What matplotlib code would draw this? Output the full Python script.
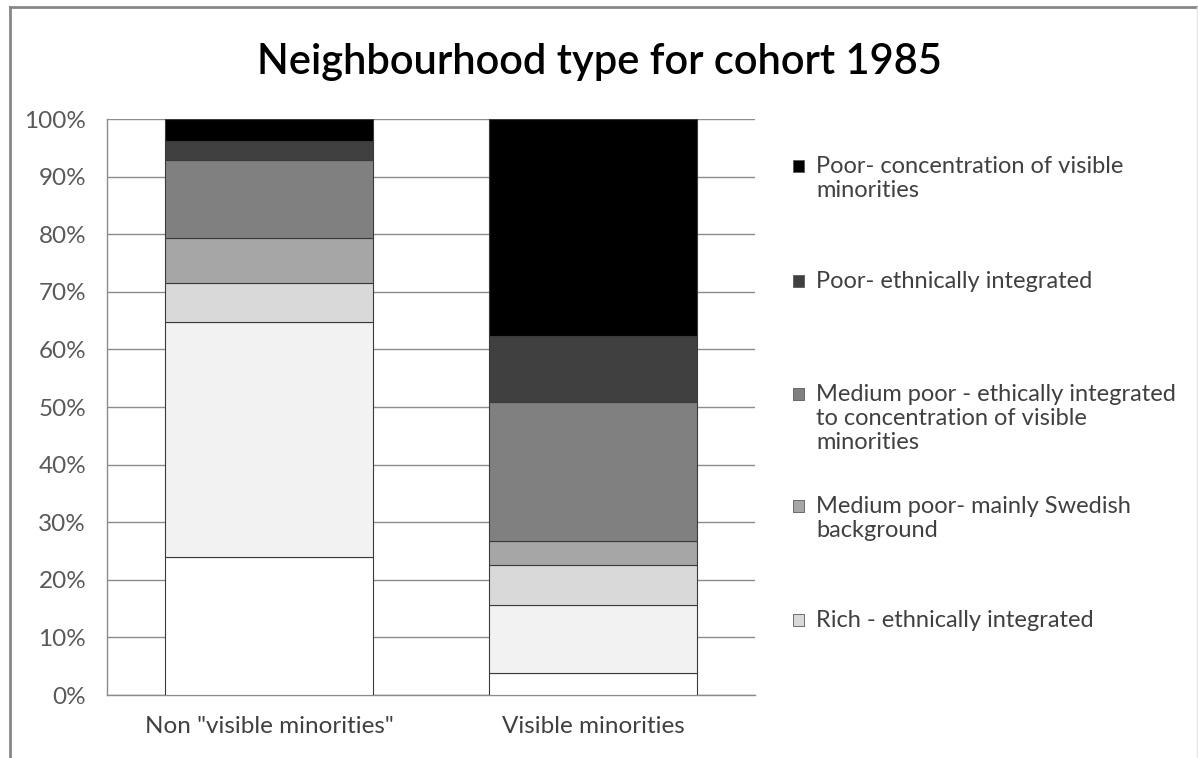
import matplotlib
matplotlib.use("Agg")
import matplotlib.pyplot as plt
from matplotlib.lines import Line2D
from matplotlib.patches import Rectangle
import numpy as np

plt.rcParams['font.family'] = ['Lato', 'DejaVu Sans']

# ---- data -------------------------------------------------------------
categories = ['Non "visible minorities"', 'Visible minorities']

# share of each neighbourhood type (%), listed from the bottom of the stack up
share_lowest = [24.0, 3.8]
share_second = [40.8, 11.9]
share_rich_integrated = [6.7, 6.9]
share_medium_poor_swedish = [7.9, 4.1]
share_medium_poor_integrated = [13.5, 24.2]
share_poor_integrated = [3.2, 11.5]
share_poor_concentration = [3.9, 37.6]

stack = [share_lowest, share_second, share_rich_integrated,
         share_medium_poor_swedish, share_medium_poor_integrated,
         share_poor_integrated, share_poor_concentration]
fills = ['#ffffff', '#f2f2f2', '#d9d9d9', '#a6a6a6', '#808080', '#404040', '#000000']

legend_labels = [
    'Poor- concentration of visible\nminorities',
    'Poor- ethnically integrated',
    'Medium poor - ethically integrated\nto concentration of visible\nminorities',
    'Medium poor- mainly Swedish\nbackground',
    'Rich - ethnically integrated',
]
legend_fills = ['#000000', '#404040', '#808080', '#a6a6a6', '#d9d9d9']

yticks = list(range(0, 101, 10))
title = 'Neighbourhood type for cohort 1985'

# ---- figure -----------------------------------------------------------
W, H = 1198, 758
fig = plt.figure(figsize=(W / 100, H / 100), dpi=100)
fig.patch.set_facecolor('white')

def fx(px):
    return px / W

def fy(py):
    return 1 - py / H

ax = fig.add_axes([fx(107), fy(695), fx(755) - fx(107), fy(119) - fy(695)])

x = np.arange(len(categories))
bottom = np.zeros(len(categories))
for vals, col in zip(stack, fills):
    ax.bar(x, vals, width=0.645, bottom=bottom, color=col,
           edgecolor='#3a3a3a', linewidth=0.8, zorder=3)
    bottom += np.array(vals)

ax.set_xlim(-0.5, 1.5)
ax.set_ylim(0, 100)
ax.set_yticks(yticks)
ax.set_yticklabels([f'{v}%' for v in yticks])
ax.set_xticks(x)
ax.set_xticklabels(categories)
ax.tick_params(axis='y', length=0, pad=15, labelsize=17.5, labelcolor='#595959')
ax.tick_params(axis='x', length=0, pad=15, labelsize=17.5, labelcolor='#404040')

ax.yaxis.grid(True, color='#8c8c8c', linewidth=1.0, zorder=0)
ax.set_axisbelow(True)
for side in ('top', 'right'):
    ax.spines[side].set_visible(False)
for side in ('left', 'bottom'):
    ax.spines[side].set_color('#8c8c8c')
    ax.spines[side].set_linewidth(1.0)

# title
fig.text(0.5, fy(62), title, ha='center', va='center', fontsize=30,
         fontweight='semibold', color='#000000')

# legend, drawn entry by entry
legend_rows = [166, 281, 394, 506, 620]
for lab, col, yc in zip(legend_labels, legend_fills, legend_rows):
    fig.patches.append(Rectangle((fx(793), fy(yc + 6)), fx(11), 12 / H,
                                 transform=fig.transFigure, facecolor=col,
                                 edgecolor='#595959', linewidth=0.6))
    fig.text(fx(816), fy(yc - 10), lab, ha='left', va='top', fontsize=17,
             color='#404040', linespacing=1.18)

# chart frame
fig.add_artist(Line2D([fx(10), fx(1198)], [fy(7), fy(7)], transform=fig.transFigure,
                      color='#878787', linewidth=2.0))
fig.add_artist(Line2D([fx(10), fx(10)], [fy(7), fy(760)], transform=fig.transFigure,
                      color='#878787', linewidth=2.0))
fig.add_artist(Line2D([fx(1196.5), fx(1196.5)], [fy(7), fy(760)], transform=fig.transFigure,
                      color='#e4e4e4', linewidth=1.0))

fig.savefig('out.png', dpi=100, facecolor='white')
